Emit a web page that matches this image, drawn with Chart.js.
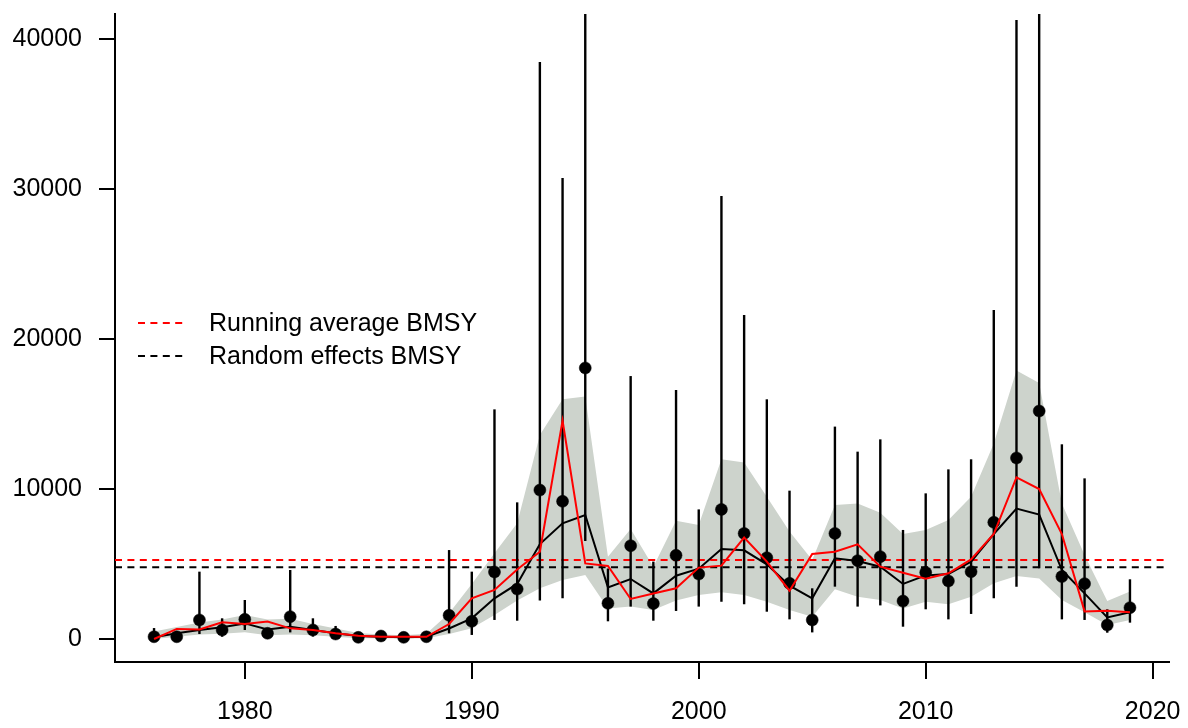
<!DOCTYPE html>
<html>
<head>
<meta charset="utf-8">
<script src="https://cdn.jsdelivr.net/npm/chart.js@4.4.1/dist/chart.umd.min.js"></script>
<style>
  html, body { margin: 0; padding: 0; background: #fff; }
  #wrap { width: 1188px; height: 728px; }
</style>
</head>
<body>
<div id="wrap"><canvas id="bmsyChart" width="1188" height="728"></canvas></div>
<script>
// data
const years = [1976, 1977, 1978, 1979, 1980, 1981, 1982, 1983, 1984, 1985, 1986,
               1987, 1988, 1989, 1990, 1991, 1992, 1993, 1994, 1995, 1996, 1997,
               1998, 1999, 2000, 2001, 2002, 2003, 2004, 2005, 2006, 2007, 2008,
               2009, 2010, 2011, 2012, 2013, 2014, 2015, 2016, 2017, 2018, 2019];

// observed points + their interval
const observed = [150, 150, 1270, 600, 1310, 380, 1490, 600, 330, 110, 200,
                  110, 150, 1580, 1180, 4470, 3330, 9930, 9180, 18070, 2380, 6220,
                  2360, 5580, 4330, 8640, 7040, 5420, 3710, 1270, 7040, 5220, 5490,
                  2530, 4440, 3870, 4490, 7780, 12070, 15200, 4160, 3690, 930, 2090];
const obsLower = [0, 50, 330, 150, 600, 200, 440, 160, 100, 30, 50,
                  20, 50, 380, 270, 1270, 1220, 2560, 2710, 6530, 1180, 2160,
                  1220, 1870, 2160, 2490, 2310, 1820, 1310, 440, 3490, 2160, 2240,
                  820, 1980, 1310, 1670, 2710, 3490, 4710, 1310, 1270, 420, 1090];
const obsUpper = [730, 300, 4490, 1380, 2600, 550, 4600, 1380, 870, 200, 300,
                  200, 300, 5930, 4490, 15310, 9110, 38470, 30730, 45000, 4700, 17530,
                  5160, 16600, 8640, 29530, 21600, 15980, 9890, 3380, 14160, 12490, 13310,
                  7270, 9710, 11310, 11980, 21930, 41270, 46000, 12980, 10710, 1980, 3980];

// random effects fit (black) and its band
const randomEffects = [110, 380, 600, 780, 1040, 640, 820, 600, 380, 200, 150,
                       110, 150, 700, 1380, 2710, 3670, 6330, 7710, 8270, 3440, 4000,
                       3040, 4220, 4690, 6000, 5910, 4980, 3560, 2710, 5380, 5200, 4820,
                       3670, 4240, 4330, 5160, 7000, 8690, 8290, 4600, 3040, 1440, 1780];
const bandLower = [0, 150, 300, 350, 450, 250, 300, 250, 150, 50, 50,
                   30, 50, 330, 710, 1600, 2560, 3380, 3930, 4270, 2040, 2160,
                   1930, 2560, 2930, 3110, 2930, 2490, 1930, 1490, 3310, 2820, 2600,
                   2040, 2490, 2310, 2820, 3710, 4200, 4040, 2600, 1780, 930, 1270];
const bandUpper = [500, 800, 1100, 1300, 1600, 1300, 1350, 1000, 700, 400, 300,
                   250, 350, 1710, 3670, 5710, 7710, 13600, 15980, 16160, 5490, 7330,
                   4820, 7890, 7600, 11980, 11760, 9490, 7160, 5270, 8930, 9040, 8420,
                   7000, 7270, 7930, 9490, 13040, 17900, 17070, 9040, 5600, 2530, 3160];

// running average (red)
const runningAverage = [0, 670, 640, 1110, 1000, 1160, 710, 600, 380, 220, 150,
                        150, 150, 1000, 2710, 3270, 4640, 5820, 14560, 5040, 4870, 2670,
                        3040, 3380, 4760, 4890, 6760, 5160, 3220, 5670, 5820, 6310, 4820,
                        4420, 4020, 4380, 5310, 7000, 10780, 10000, 7000, 1840, 1890, 1780];

const bmsyRunningAvg = 5270;
const bmsyRandomEff = 4780;

const xTicks = [1980, 1990, 2000, 2010, 2020];
const yTicks = [0, 10000, 20000, 30000, 40000];
const xLimits = [1974.28, 2020.72];
const yLimits = [-1533, 41667];
const legendLabels = ['Running average BMSY', 'Random effects BMSY'];

const RED = '#ff0000';
const BAND = '#cdd3cc';
const FONT = '"Liberation Sans", Arial, sans-serif';

const asPoints = vals => years.map((yr, i) => ({ x: yr, y: vals[i] }));
const hLine = v => [{ x: xLimits[0], y: v }, { x: xLimits[1], y: v }];

// vertical interval bars, drawn just before the points
const errorBars = {
    id: 'errorBars',
    beforeDatasetDraw(chart, args) {
        if (args.index !== 2) return;
        const { ctx, chartArea, scales } = chart;
        ctx.save();
        ctx.beginPath();
        ctx.rect(chartArea.left, chartArea.top, chartArea.right - chartArea.left, chartArea.bottom - chartArea.top);
        ctx.clip();
        ctx.strokeStyle = '#000';
        ctx.lineWidth = 2.4;
        years.forEach((yr, i) => {
            const px = scales.x.getPixelForValue(yr);
            ctx.beginPath();
            ctx.moveTo(px, scales.y.getPixelForValue(obsLower[i]));
            ctx.lineTo(px, scales.y.getPixelForValue(obsUpper[i]));
            ctx.stroke();
        });
        ctx.restore();
    }
};

// R style legend, no box
const bmsyLegend = {
    id: 'bmsyLegend',
    afterDraw(chart) {
        const ctx = chart.ctx;
        const rows = [
            { text: legendLabels[0], color: RED, y: 323 },
            { text: legendLabels[1], color: '#000', y: 356 }
        ];
        ctx.save();
        ctx.font = '25px ' + FONT;
        ctx.textBaseline = 'middle';
        rows.forEach(r => {
            ctx.strokeStyle = r.color;
            ctx.lineWidth = 2;
            ctx.setLineDash([7, 5.4]);
            ctx.beginPath();
            ctx.moveTo(138, r.y);
            ctx.lineTo(184, r.y);
            ctx.stroke();
            ctx.fillStyle = '#000';
            ctx.fillText(r.text, 209, r.y + 1);
        });
        ctx.restore();
    }
};

const axisOpts = (limits, ticks, tickLen, pad) => ({
    type: 'linear',
    min: limits[0],
    max: limits[1],
    afterBuildTicks: s => { s.ticks = ticks.map(v => ({ value: v })); },
    grid: { drawOnChartArea: false, drawTicks: true, tickLength: tickLen, color: '#000', lineWidth: 2 },
    border: { display: true, color: '#000', width: 2 },
    ticks: {
        color: '#000',
        font: { family: FONT, size: 25 },
        padding: pad,
        maxRotation: 0,
        autoSkip: false,
        callback: v => String(v)
    }
});

// fixed margins like the R plot region
const xAxis = axisOpts(xLimits, xTicks, 17, 18);
xAxis.position = 'bottom';
xAxis.afterFit = s => { s.height = 66; s.paddingLeft = 0; s.paddingRight = 0; };
const yAxis = axisOpts(yLimits, yTicks, 16, 17);
yAxis.position = 'left';
yAxis.afterFit = s => { s.width = 115; s.paddingTop = 0; s.paddingBottom = 0; };

new Chart(document.getElementById('bmsyChart'), {
    type: 'line',
    data: {
        datasets: [
            { label: 'Running average', data: asPoints(runningAverage), borderColor: RED, borderWidth: 2,
              pointRadius: 0, fill: false, tension: 0, order: 1 },
            { label: 'Random effects', data: asPoints(randomEffects), borderColor: '#000', borderWidth: 2,
              pointRadius: 0, fill: false, tension: 0, order: 2 },
            { label: 'Observed', data: asPoints(observed), showLine: false, pointRadius: 6,
              pointBackgroundColor: '#000', pointBorderColor: '#000', pointBorderWidth: 0.5, order: 3 },
            { label: 'BMSY running avg', data: hLine(bmsyRunningAvg), borderColor: RED, borderWidth: 2,
              borderDash: [7, 5.4], pointRadius: 0, fill: false, order: 4 },
            { label: 'BMSY random eff', data: hLine(bmsyRandomEff), borderColor: '#000', borderWidth: 2,
              borderDash: [7, 5.4], pointRadius: 0, fill: false, order: 5 },
            { label: 'Band upper', data: asPoints(bandUpper), borderWidth: 0, borderColor: BAND,
              backgroundColor: BAND, pointRadius: 0, fill: '+1', tension: 0, order: 6 },
            { label: 'Band lower', data: asPoints(bandLower), borderWidth: 0, borderColor: BAND,
              pointRadius: 0, fill: false, tension: 0, order: 7 }
        ]
    },
    options: {
        responsive: false,
        animation: false,
        devicePixelRatio: 1,
        layout: { padding: { top: 14, right: 19, left: 0, bottom: 0 } },
        plugins: { legend: { display: false }, tooltip: { enabled: false } },
        scales: { x: xAxis, y: yAxis }
    },
    plugins: [errorBars, bmsyLegend]
});
</script>
</body>
</html>
